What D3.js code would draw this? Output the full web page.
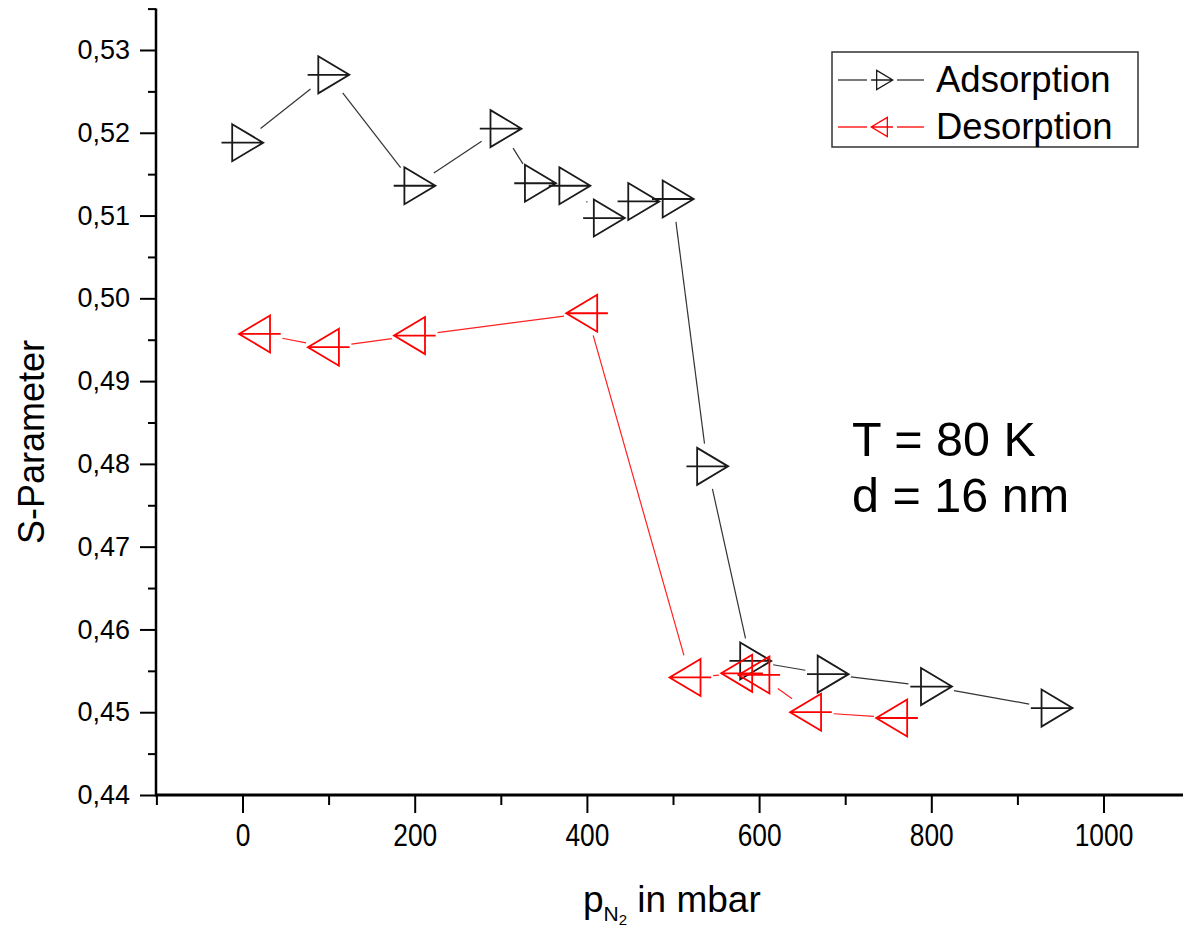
<!DOCTYPE html>
<html>
<head>
<meta charset="utf-8">
<script src="https://cdn.jsdelivr.net/npm/d3@7"></script>
<style>
  html, body { margin: 0; padding: 0; background: #fff; }
  svg { display: block; font-family: "Liberation Sans", Arial, sans-serif; }
</style>
</head>
<body>
<svg id="chart" width="1183" height="930"></svg>
<script>
// ---- data ----
const adsPressure = [0, 100, 200, 300, 340, 380, 420, 460, 500, 540, 590, 680, 800, 940];
const adsS = [0.5188, 0.5270, 0.5136, 0.5205, 0.5139, 0.5136, 0.5097, 0.5117, 0.5120, 0.4797, 0.4562, 0.4546, 0.4531, 0.4505];
const desPressure = [20, 100, 200, 400, 520, 580, 600, 660, 760];
const desS = [0.4957, 0.4941, 0.4955, 0.4982, 0.4542, 0.4547, 0.4545, 0.4500, 0.4493];
const xMajorTicks = [0, 200, 400, 600, 800, 1000];
const xMinorTicks = [-100, 100, 300, 500, 700, 900, 1100];
const yMajorTicks = [0.44, 0.45, 0.46, 0.47, 0.48, 0.49, 0.50, 0.51, 0.52, 0.53];
const yMinorTicks = [0.445, 0.455, 0.465, 0.475, 0.485, 0.495, 0.505, 0.515, 0.525, 0.535];
const seriesNames = ["Adsorption", "Desorption"];
const annotation = ["T = 80 K", "d = 16 nm"];

const svg = d3.select("#chart");
const W = 1183, H = 930;
svg.append("rect").attr("width", W).attr("height", H).attr("fill", "#fff");

const x = d3.scaleLinear().domain([-100, 1100]).range([156.4, 1189.6]);
const y = d3.scaleLinear().domain([0.44, 0.535]).range([795, 8.6]);

const comma = v => d3.format(".2f")(v).replace(".", ",");

// ---- axes ----
const axisX = 795, axisY = 156;
const gx = svg.append("g").attr("transform", `translate(0,${axisX})`);
gx.call(d3.axisBottom(x).tickValues(xMinorTicks).tickSize(10).tickFormat(""))
  .call(g => g.select(".domain").remove());
const gxMaj = svg.append("g").attr("transform", `translate(0,${axisX})`);
gxMaj.call(d3.axisBottom(x).tickValues(xMajorTicks).tickSize(18).tickPadding(11).tickFormat(d3.format("d")))
  .call(g => g.select(".domain").remove());
gxMaj.selectAll("text").attr("font-size", 31).attr("fill", "#000")
  .attr("font-family", '"Liberation Sans", Arial, sans-serif')
  .attr("transform", "scale(0.85,1)");

const gy = svg.append("g").attr("transform", `translate(${axisY},0)`);
gy.call(d3.axisLeft(y).tickValues(yMinorTicks).tickSize(8).tickFormat(""))
  .call(g => g.select(".domain").remove());
const gyMaj = svg.append("g").attr("transform", `translate(${axisY},0)`);
gyMaj.call(d3.axisLeft(y).tickValues(yMajorTicks).tickSize(16).tickPadding(10).tickFormat(comma))
  .call(g => g.select(".domain").remove());
gyMaj.selectAll("text").attr("font-size", 27).attr("fill", "#000")
  .attr("font-family", '"Liberation Sans", Arial, sans-serif');
svg.selectAll("g.tick line").attr("stroke", "#000").attr("stroke-width", 2);

// axis lines
svg.append("line").attr("x1", axisY).attr("x2", W).attr("y1", axisX).attr("y2", axisX)
  .attr("stroke", "#000").attr("stroke-width", 3);
svg.append("line").attr("x1", axisY).attr("x2", axisY).attr("y1", y(0.535)).attr("y2", axisX + 1.5)
  .attr("stroke", "#000").attr("stroke-width", 2.5);

// axis titles
svg.append("text").attr("transform", "translate(44,442) rotate(-90)")
  .attr("text-anchor", "middle").attr("font-size", 36).attr("fill", "#000").text("S-Parameter");

const xt = svg.append("text").attr("x", 583).attr("y", 912).attr("font-size", 37).attr("fill", "#000");
xt.append("tspan").text("p");
xt.append("tspan").attr("font-size", 21).attr("dy", 9).text("N");
xt.append("tspan").attr("font-size", 15).attr("dy", 4).text("2");
xt.append("tspan").attr("dy", -13).text(" in mbar");

// ---- markers ----
function markerPath(dir, s) {
  const b = -10.3 * s * dir, t = 20.7 * s * dir, h = 18.5 * s;
  return `M${b},${-h}L${t},0L${b},${h}Z` +
         `M${-21 * s * dir},0L${21 * s * dir},0` + `M${b},${-h}L${b},${h}`;
}

function drawSeries(xs, ys, color, lineColor, dir) {
  const pts = xs.map((d, i) => [x(d), y(ys[i])]);
  const g = svg.append("g");
  const r = 23;
  for (let i = 0; i < pts.length - 1; i++) {
    const [x1, y1] = pts[i], [x2, y2] = pts[i + 1];
    const dx = x2 - x1, dy = y2 - y1, L = Math.hypot(dx, dy);
    if (L <= 2 * r) continue;
    const ux = dx / L, uy = dy / L;
    g.append("line")
      .attr("x1", x1 + ux * r).attr("y1", y1 + uy * r)
      .attr("x2", x2 - ux * r).attr("y2", y2 - uy * r)
      .attr("stroke", lineColor).attr("stroke-width", 1.2);
  }
  g.selectAll("path.m").data(pts).enter().append("path")
    .attr("class", "m")
    .attr("transform", d => `translate(${d[0]},${d[1]})`)
    .attr("d", markerPath(dir, 1))
    .attr("fill", "none").attr("stroke", color).attr("stroke-width", 1.8);
}

drawSeries(adsPressure, adsS, "#1a1a1a", "#333", 1);
drawSeries(desPressure, desS, "#ff0000", "#ff2020", -1);

// ---- legend ----
const leg = svg.append("g");
leg.append("rect").attr("x", 832).attr("y", 52).attr("width", 306).attr("height", 95)
  .attr("fill", "#fff").attr("stroke", "#333").attr("stroke-width", 1.5);
const legColors = [["#1a1a1a", "#333", 1], ["#ff0000", "#ff0000", -1]];
seriesNames.forEach((name, i) => {
  const cy = 80 + i * 47, cx = 882;
  const [c, lc, dir] = legColors[i];
  leg.append("line").attr("x1", 838).attr("x2", 867).attr("y1", cy).attr("y2", cy)
    .attr("stroke", lc).attr("stroke-width", 1.3);
  leg.append("line").attr("x1", 897).attr("x2", 924).attr("y1", cy).attr("y2", cy)
    .attr("stroke", lc).attr("stroke-width", 1.3);
  leg.append("path").attr("transform", `translate(${cx},${cy})`)
    .attr("d", markerPath(dir, 0.52)).attr("fill", "none").attr("stroke", c).attr("stroke-width", 1.3);
  leg.append("text").attr("x", 936).attr("y", cy + 12).attr("font-size", 36.5).attr("fill", "#000").text(name);
});

// ---- annotation ----
annotation.forEach((t, i) => {
  svg.append("text").attr("x", 852).attr("y", 456 + i * 56).attr("font-size", 48.5)
    .attr("fill", "#000").text(t);
});
</script>
</body>
</html>
